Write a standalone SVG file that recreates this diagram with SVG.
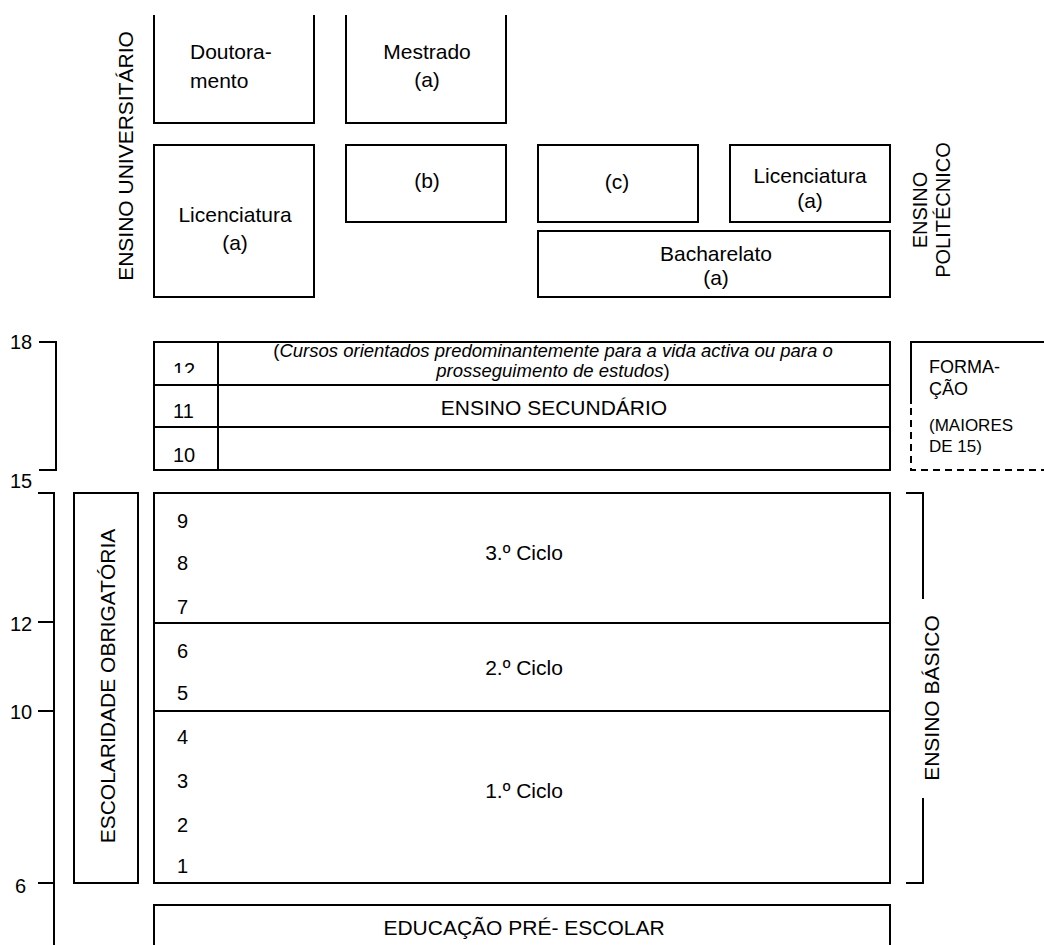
<svg xmlns="http://www.w3.org/2000/svg" width="1044" height="945" viewBox="0 0 1044 945">
<defs>
<style>
.b{fill:#fff;stroke:#000;stroke-width:2}
.o{fill:none;stroke:#000;stroke-width:2}
.d{fill:none;stroke:#000;stroke-width:2;stroke-dasharray:7,5}
text{font-family:"Liberation Sans",Arial,sans-serif;fill:#000}
.t{font-size:21px}
.m{text-anchor:middle}
.n{font-size:20px}
.i{font-size:18.5px}
.f{font-size:18px}
.s{font-size:17px}
</style>
<clipPath id="c12"><rect x="154" y="342" width="64" height="31"/></clipPath>
<clipPath id="cit"><rect x="218" y="330" width="672" height="51"/></clipPath>
</defs>
<rect width="1044" height="945" fill="#fff"/>

<g id="ensino-universitario-label">
<text class="t m" transform="translate(133,156) rotate(-90)">ENSINO UNIVERSITÁRIO</text>
</g>
<g id="doutoramento">
<path class="o" d="M154,15 V123 H314 V15"/>
<text class="t" x="190" y="59">Doutora-</text>
<text class="t" x="190" y="88">mento</text>
</g>
<g id="mestrado">
<path class="o" d="M346,15 V123 H506 V15"/>
<text class="t m" x="427" y="59">Mestrado</text>
<text class="t m" x="427" y="87">(a)</text>
</g>
<g id="licenciatura-univ">
<rect class="b" x="154" y="145" width="160" height="152"/>
<text class="t m" x="235" y="222">Licenciatura</text>
<text class="t m" x="235" y="250">(a)</text>
</g>
<g id="b-box">
<rect class="b" x="346" y="145" width="160" height="77"/>
<text class="t m" x="427" y="188">(b)</text>
</g>
<g id="c-box">
<rect class="b" x="538" y="145" width="160" height="77"/>
<text class="t m" x="617" y="189">(c)</text>
</g>
<g id="licenciatura-poli">
<rect class="b" x="730" y="145" width="160" height="77"/>
<text class="t m" x="810" y="183">Licenciatura</text>
<text class="t m" x="810" y="208">(a)</text>
</g>
<g id="bacharelato">
<rect class="b" x="538" y="231" width="352" height="66"/>
<text class="t m" x="716" y="261">Bacharelato</text>
<text class="t m" x="716" y="285">(a)</text>
</g>
<g id="ensino-politecnico-label">
<text class="n m" transform="translate(927,210) rotate(-90)">ENSINO</text>
<text class="n m" transform="translate(950,210) rotate(-90)">POLITÉCNICO</text>
</g>

<g id="ensino-secundario">
<rect class="b" x="154" y="342" width="736" height="128"/>
<line class="o" x1="154" y1="385" x2="890" y2="385"/>
<line class="o" x1="154" y1="427" x2="890" y2="427"/>
<line class="o" x1="218" y1="342" x2="218" y2="470"/>
<text class="n" x="173" y="377" clip-path="url(#c12)">12</text>
<text class="n" x="173" y="418">11</text>
<text class="n" x="173" y="462">10</text>
<g clip-path="url(#cit)">
<text class="i m" x="553" y="357">(<tspan font-style="italic">Cursos orientados predominantemente para a vida activa ou para o</tspan></text>
<text class="i m" x="553" y="377"><tspan font-style="italic">prosseguimento de estudos</tspan>)</text>
</g>
<text class="t m" x="554" y="415">ENSINO SECUNDÁRIO</text>
</g>

<g id="formacao">
<path class="o" d="M1044,342 H911 V404"/>
<path class="d" d="M911,408 V470 H1044"/>
<text class="f" x="929" y="373">FORMA-</text>
<text class="f" x="929" y="395">ÇÃO</text>
<text class="s" x="929" y="431">(MAIORES</text>
<text class="s" x="929" y="452">DE 15)</text>
</g>

<g id="escolaridade-obrigatoria">
<rect class="b" x="74" y="493" width="64" height="390"/>
<text class="t m" transform="translate(115,686) rotate(-90)">ESCOLARIDADE OBRIGATÓRIA</text>
</g>

<g id="ensino-basico">
<rect class="b" x="154" y="493" width="736" height="390"/>
<line class="o" x1="154" y1="623" x2="890" y2="623"/>
<line class="o" x1="154" y1="711" x2="890" y2="711"/>
<text class="n" x="177" y="528">9</text>
<text class="n" x="177" y="570">8</text>
<text class="n" x="177" y="614">7</text>
<text class="n" x="177" y="658">6</text>
<text class="n" x="177" y="700">5</text>
<text class="n" x="177" y="744">4</text>
<text class="n" x="177" y="788">3</text>
<text class="n" x="177" y="832">2</text>
<text class="n" x="177" y="873">1</text>
<text class="t m" x="524" y="560">3.º Ciclo</text>
<text class="t m" x="524" y="675">2.º Ciclo</text>
<text class="t m" x="524" y="798">1.º Ciclo</text>
</g>

<g id="ensino-basico-label">
<text class="t m" transform="translate(939,698) rotate(-90)">ENSINO BÁSICO</text>
</g>

<g id="pre-escolar">
<path class="o" d="M154,946 V905 H890 V946"/>
<text class="t m" x="524" y="935">EDUCAÇÃO PRÉ- ESCOLAR</text>
</g>

<g id="age-labels">
<text class="n" x="10" y="349">18</text>
<text class="n" x="10" y="488">15</text>
<text class="n" x="10" y="631">12</text>
<text class="n" x="10" y="719">10</text>
<text class="n" x="15" y="893">6</text>
</g>

<g id="connectors">
<path class="o" d="M39,342 H56 V470 H39"/>
<path class="o" d="M38,493 H54 V946"/>
<line class="o" x1="38" y1="622" x2="54" y2="622"/>
<line class="o" x1="38" y1="711" x2="54" y2="711"/>
<line class="o" x1="38" y1="883" x2="54" y2="883"/>
<path class="o" d="M906,493 H923 V599"/>
<path class="o" d="M923,798 V883 H906"/>
</g>
</svg>
